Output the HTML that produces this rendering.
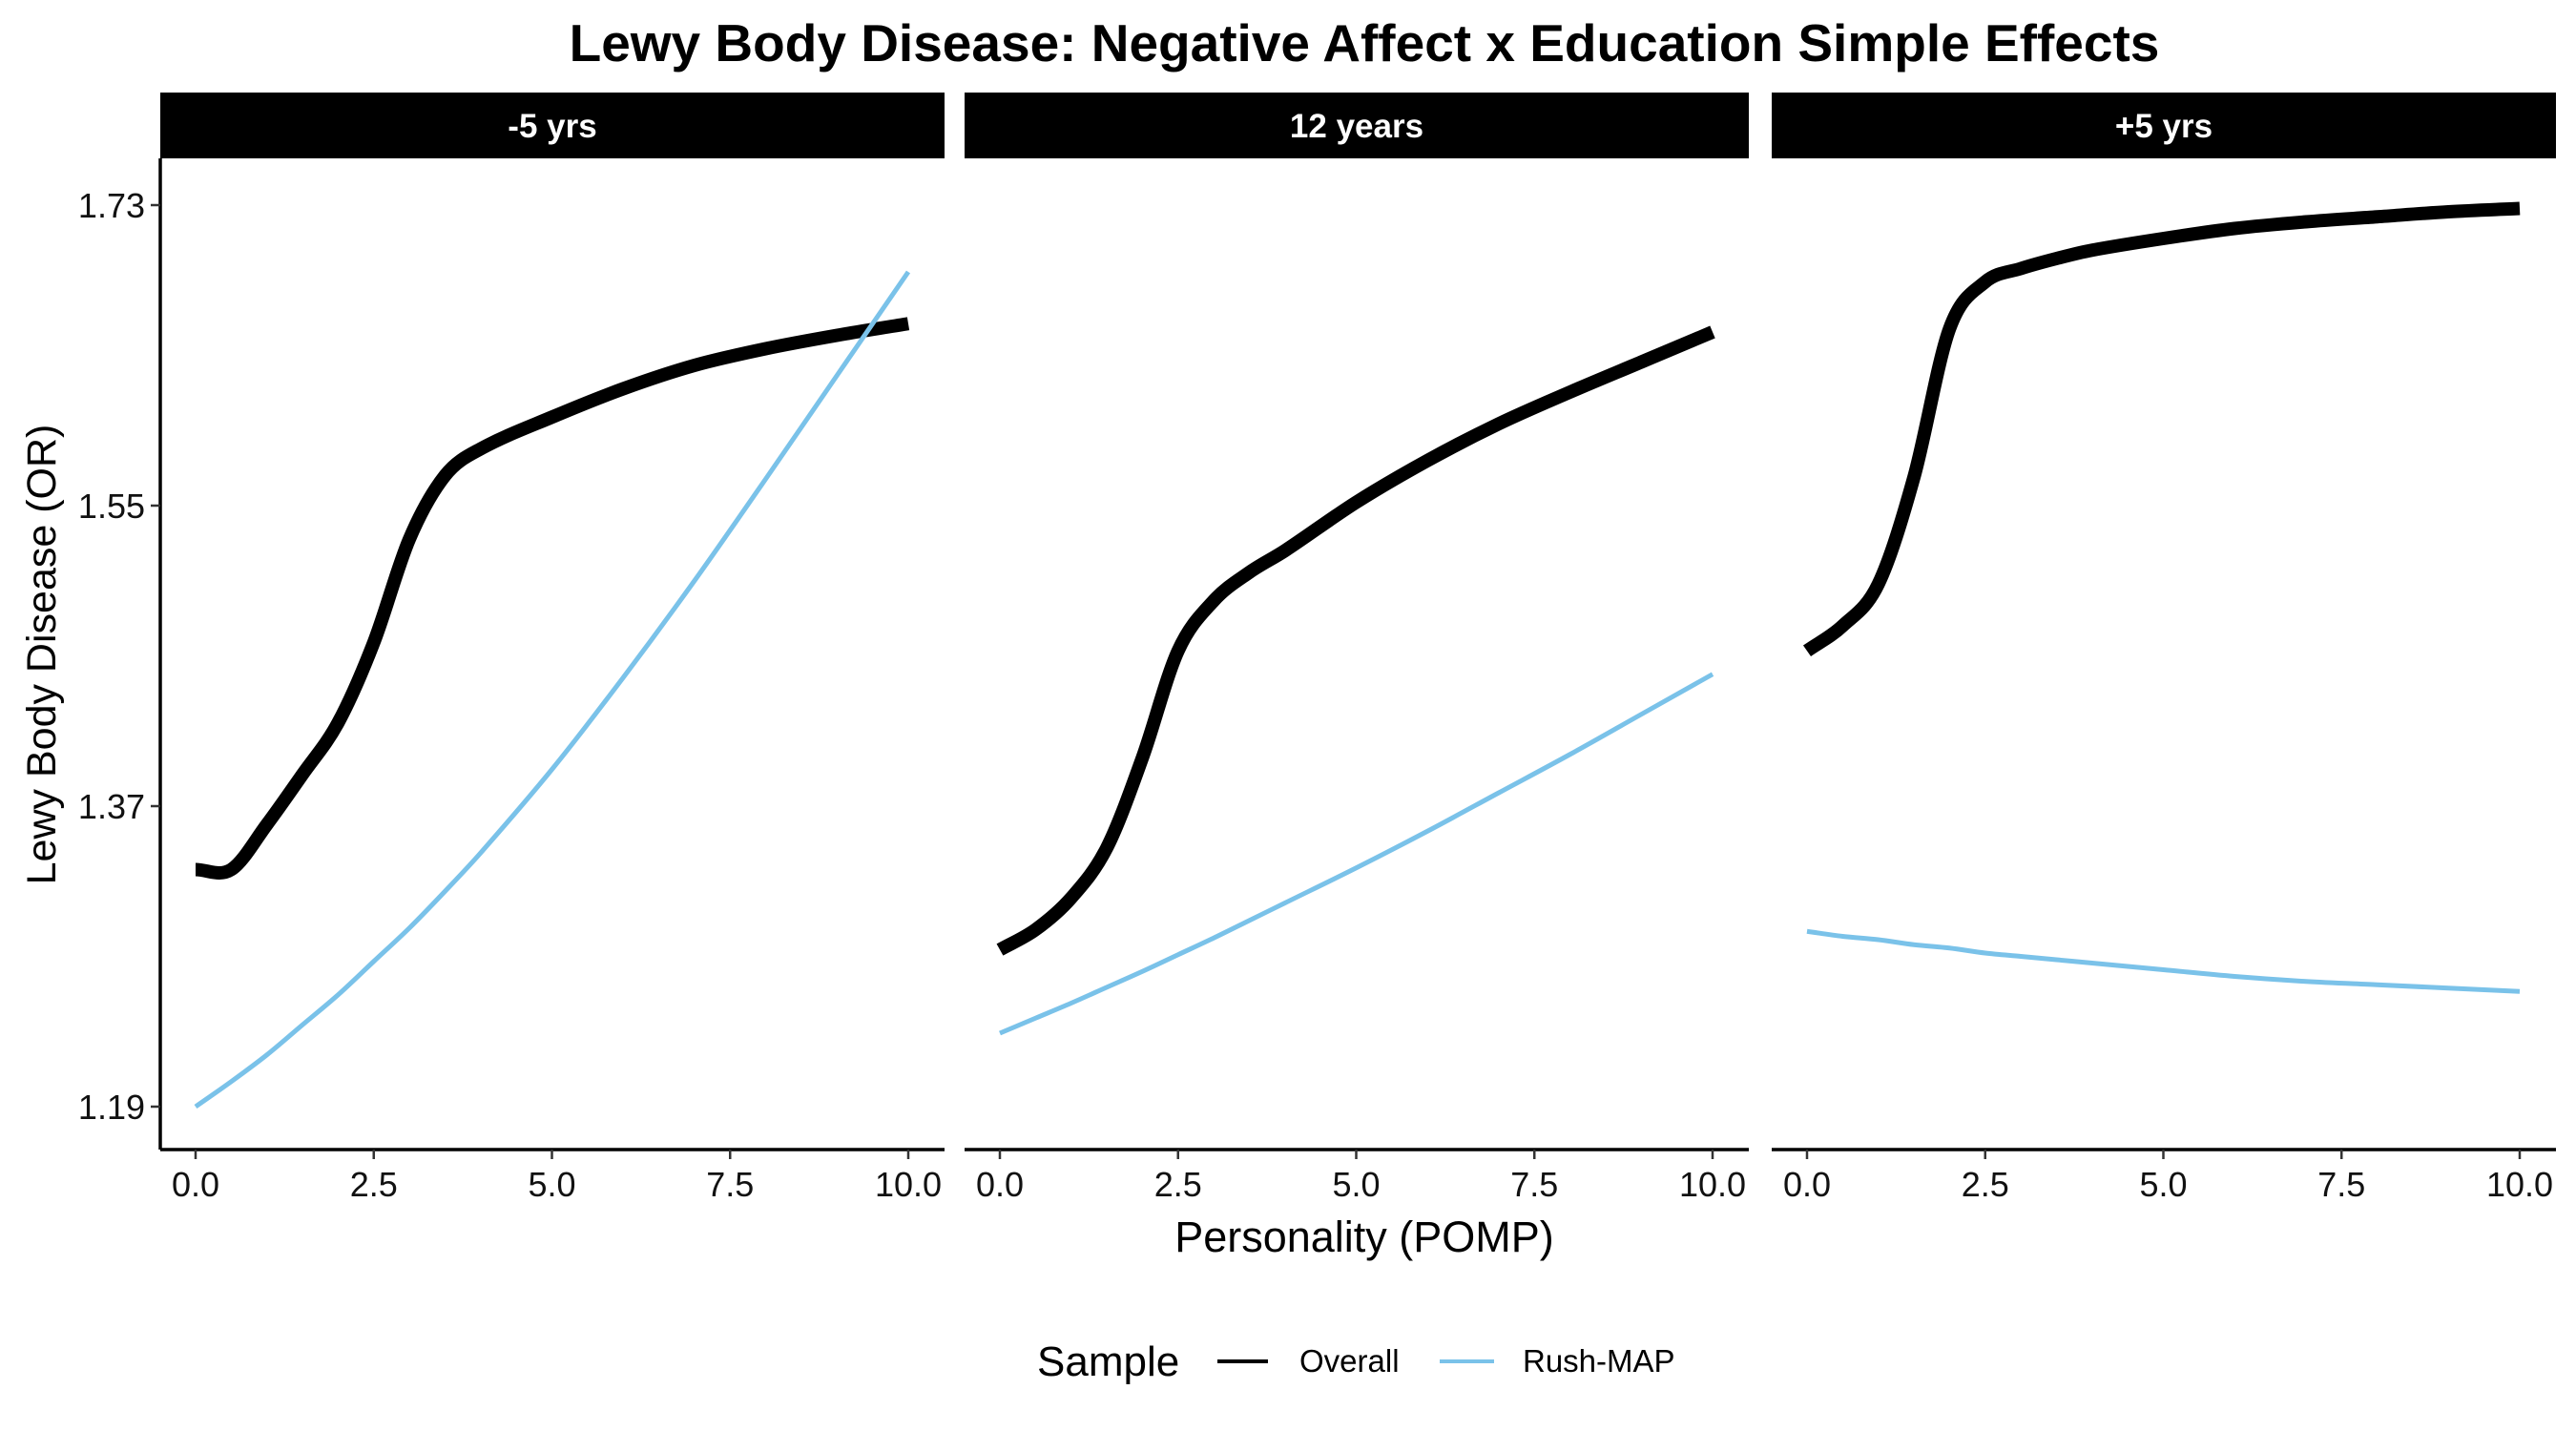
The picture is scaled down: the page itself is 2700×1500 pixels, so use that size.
<!DOCTYPE html>
<html><head><meta charset="utf-8"><style>
html,body{margin:0;padding:0;background:#fff;width:2700px;height:1500px;overflow:hidden}
svg{display:block}
text{font-family:"Liberation Sans",Arial,sans-serif}
</style></head><body>
<svg id="chart" width="2700" height="1500" viewBox="0 0 2700 1500"></svg>
<script>
const xs = [0,0.5,1,1.5,2,2.5,3,3.5,4,5,6,7,8,9,10];
const panelLabels = ["-5 yrs","12 years","+5 yrs"];
const overallP1 = [1.332,1.332,1.359,1.389,1.420,1.468,1.530,1.568,1.584,1.603,1.620,1.634,1.644,1.652,1.659];
const rushP1    = [1.190,1.205,1.221,1.239,1.257,1.277,1.297,1.319,1.342,1.392,1.447,1.505,1.566,1.628,1.690];
const overallP2 = [1.284,1.296,1.315,1.345,1.399,1.463,1.493,1.510,1.523,1.552,1.577,1.599,1.618,1.636,1.654];
const rushP2    = [1.234,1.243,1.252,1.2615,1.271,1.281,1.291,1.3015,1.312,1.333,1.355,1.378,1.401,1.425,1.449];
const overallP3 = [1.463,1.478,1.503,1.567,1.656,1.684,1.692,1.698,1.703,1.710,1.716,1.720,1.723,1.726,1.728];
const rushP3    = [1.295,1.292,1.290,1.287,1.285,1.282,1.280,1.278,1.276,1.272,1.268,1.265,1.263,1.261,1.259];
const yTicks = [1.19,1.37,1.55,1.73];
const xTicks = [0,2.5,5,7.5,10];
const xTickLabels = ["0.0","2.5","5.0","7.5","10.0"];

const NS="http://www.w3.org/2000/svg";
const svg=document.getElementById('chart');
function mk(tag,attrs,parent){const e=document.createElementNS(NS,tag);for(const k in attrs)e.setAttribute(k,attrs[k]);(parent||svg).appendChild(e);return e;}
const panelLeft=[168,1011,1857], panelW=822, panelTop=166, panelBottom=1205;
function xScale(p,v){return panelLeft[p]+37+v*74.7;}
function yScale(v){return 1160-(v-1.19)/0.54*945;}
function pathD(p,vals){
  const pts=xs.map((x,i)=>[xScale(p,x),yScale(vals[i])]);
  let d="M"+pts[0][0]+","+pts[0][1];
  for(let i=0;i<pts.length-1;i++){
    const p0=pts[Math.max(i-1,0)],p1=pts[i],p2=pts[i+1],p3=pts[Math.min(i+2,pts.length-1)];
    const h=p2[0]-p1[0];
    const m1=(p2[1]-p0[1])/(p2[0]-p0[0]||1), m2=(p3[1]-p1[1])/(p3[0]-p1[0]||1);
    const c1=[p1[0]+h/3,p1[1]+m1*h/3];
    const c2=[p2[0]-h/3,p2[1]-m2*h/3];
    d+=" C"+c1[0]+","+c1[1]+" "+c2[0]+","+c2[1]+" "+p2[0]+","+p2[1];
  }
  return d;
}
let t=mk('text',{x:1430,y:64,'text-anchor':'middle','font-size':55,'font-weight':'bold'});
t.textContent="Lewy Body Disease: Negative Affect x Education Simple Effects";



const overall=[overallP1,overallP2,overallP3], rush=[rushP1,rushP2,rushP3];
for(let p=0;p<3;p++){
  const g=mk('g',{});
  
  
  const s=mk('rect',{x:panelLeft[p],y:97,width:panelW,height:69,fill:'#000'},g);
  
  
  const st=mk('text',{x:panelLeft[p]+panelW/2,y:144,'text-anchor':'middle','font-size':35,'font-weight':'bold',fill:'#fff'},g);
  st.textContent=panelLabels[p];
  
  
  const ax=mk('line',{x1:panelLeft[p],x2:panelLeft[p]+panelW,y1:panelBottom,y2:panelBottom,stroke:'#000','stroke-width':3.5},g);
  
  
  xTicks.forEach((v,i)=>{
    const tk=mk('line',{x1:xScale(p,v),x2:xScale(p,v),y1:panelBottom,y2:panelBottom+10,stroke:'#333','stroke-width':2.5},g);
    
    
    const tl=mk('text',{x:xScale(p,v),y:1254,'text-anchor':'middle','font-size':36,fill:'#111'},g);
    tl.textContent=xTickLabels[i];
    
    
  });
  const ln1=mk('path',{d:pathD(p,overall[p]),fill:'none',stroke:'#000','stroke-width':14},g);
  
  
  const ln2=mk('path',{d:pathD(p,rush[p]),fill:'none',stroke:'#7AC2E9','stroke-width':5},g);
  
  
}
const yl=mk('line',{x1:168,x2:168,y1:panelTop,y2:panelBottom,stroke:'#000','stroke-width':3.5});


yTicks.forEach(v=>{
  const tk=mk('line',{x1:158,x2:168,y1:yScale(v),y2:yScale(v),stroke:'#333','stroke-width':2.5});
  
  
  const tl=mk('text',{x:152,y:yScale(v)+13,'text-anchor':'end','font-size':36,fill:'#111'});
  tl.textContent=v.toFixed(2);
  
  
});
const yt=mk('text',{x:0,y:0,'text-anchor':'middle','font-size':43,transform:'translate(58,686) rotate(-90)'});
yt.textContent="Lewy Body Disease (OR)";


const xt=mk('text',{x:1430,y:1312,'text-anchor':'middle','font-size':45});
xt.textContent="Personality (POMP)";


const lg=mk('g',{});


const lt=mk('text',{x:1087,y:1442,'font-size':44},lg);
lt.textContent="Sample";


const k1=mk('line',{x1:1276,x2:1329,y1:1427,y2:1427,stroke:'#000','stroke-width':4},lg);


const l1=mk('text',{x:1362,y:1438,'font-size':33},lg);
l1.textContent="Overall";


const k2=mk('line',{x1:1509,x2:1566,y1:1427,y2:1427,stroke:'#7AC2E9','stroke-width':4},lg);


const l2=mk('text',{x:1596,y:1438,'font-size':33},lg);
l2.textContent="Rush-MAP";


</script>
</body></html>
